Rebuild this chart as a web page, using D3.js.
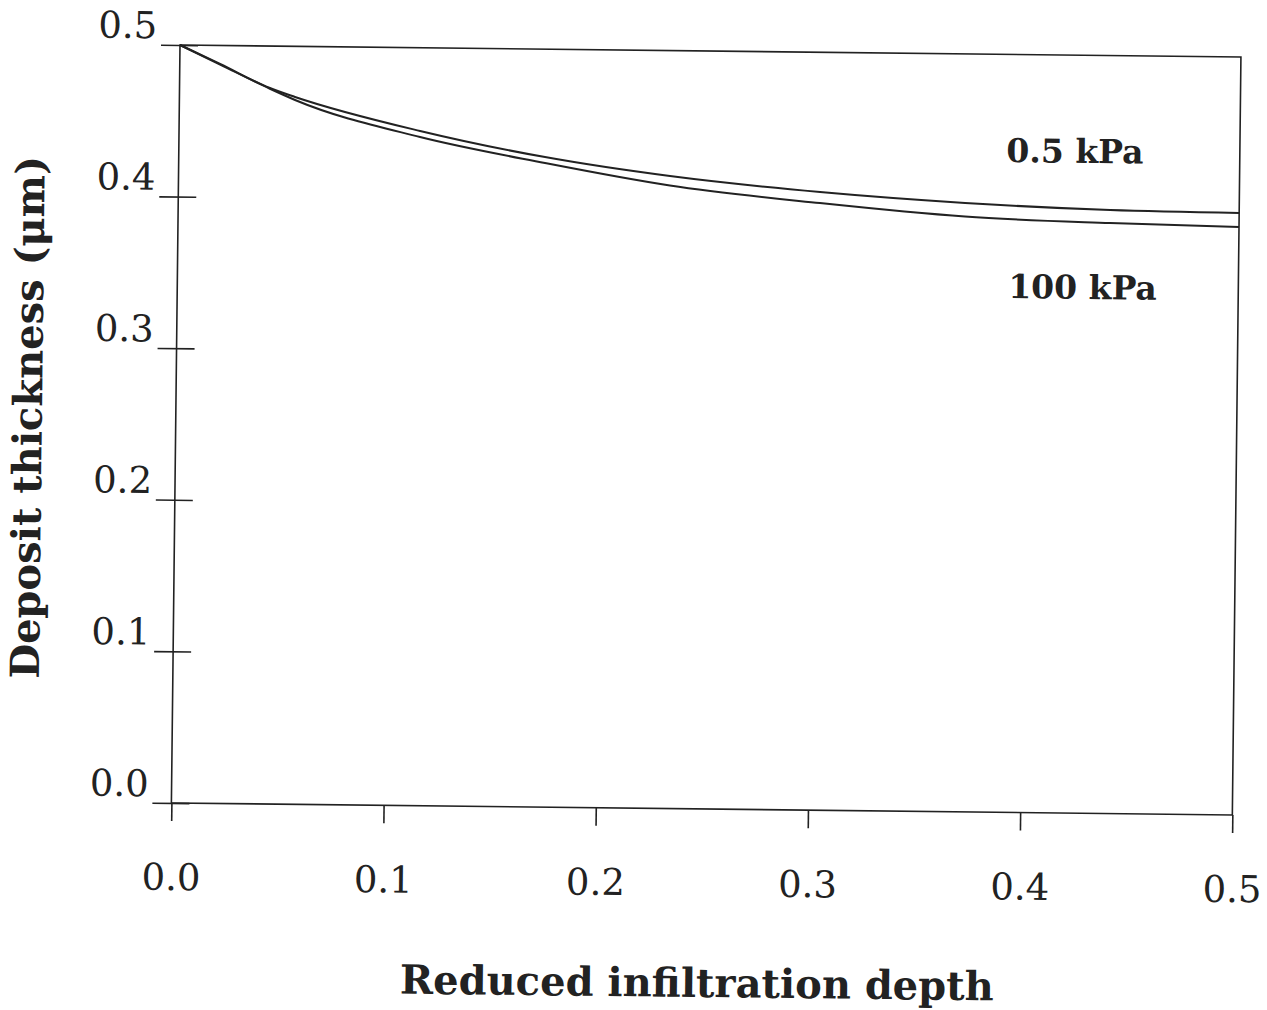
<!DOCTYPE html>
<html>
<head>
<meta charset="utf-8">
<script src="https://cdn.jsdelivr.net/npm/d3@7"></script>
<style>
  html, body { margin: 0; padding: 0; background: #fff; }
  svg { display: block; }
</style>
</head>
<body>
<div id="chart"></div>
<script>
// values
const xTicks = [0, 0.1, 0.2, 0.3, 0.4, 0.5];
const yTicks = [0, 0.1, 0.2, 0.3, 0.4, 0.5];
const depth = [0, 0.019, 0.0426, 0.0545, 0.1136, 0.1726, 0.2316, 0.3024, 0.3708, 0.4392, 0.5];
const thick05 = [0.5, 0.4878, 0.4723, 0.4666, 0.4451, 0.4288, 0.4172, 0.4078, 0.4017, 0.3981, 0.3971];
const thick100 = [0.5, 0.4874, 0.4718, 0.4646, 0.4411, 0.4249, 0.4110, 0.4005, 0.3927, 0.3895, 0.3879];
const curveLabels = [
  { text: '0.5 kPa', x: 0.390, y: 0.429 },
  { text: '100 kPa', x: 0.3916, y: 0.3393 }
];

const width = 1061, height = 758;
const ink = '#222';
const serif = '"DejaVu Serif", "Liberation Serif", serif';

const svg = d3.select('#chart').append('svg')
  .attr('width', 1267)
  .attr('height', 1010);

// the scan is tilted a little, so the whole plot is turned with it
const g = svg.append('g')
  .attr('transform', 'translate(180,45) rotate(0.65)');

const x = d3.scaleLinear().domain([0, 0.5]).range([0, width]);
const y = d3.scaleLinear().domain([0, 0.5]).range([height, 0]);

// frame
g.append('rect')
  .attr('x', 0).attr('y', 0)
  .attr('width', width).attr('height', height)
  .attr('fill', 'none')
  .attr('stroke', ink)
  .attr('stroke-width', 1.6);

// y axis, ticks cross the axis line
const yAxis = g.append('g')
  .call(d3.axisLeft(y).tickValues(yTicks).tickFormat(d3.format('.1f')).tickSize(19));
yAxis.select('.domain').remove();
yAxis.selectAll('.tick line')
  .attr('x1', 18).attr('x2', -19)
  .attr('stroke', ink).attr('stroke-width', 1.6);
yAxis.selectAll('.tick text')
  .attr('x', -23).attr('y', -7).attr('dy', 0)
  .style('font-family', serif).style('font-size', '37px')
  .attr('fill', ink);

// x axis
const xAxis = g.append('g')
  .attr('transform', 'translate(0,' + height + ')')
  .call(d3.axisBottom(x).tickValues(xTicks).tickFormat(d3.format('.1f')).tickSize(18));
xAxis.select('.domain').remove();
xAxis.selectAll('.tick line')
  .attr('stroke', ink).attr('stroke-width', 1.6);
xAxis.selectAll('.tick text')
  .attr('y', 87).attr('dy', 0)
  .style('font-family', serif).style('font-size', '37px')
  .attr('fill', ink);

// curves
const line = d3.line()
  .x(d => x(d[0]))
  .y(d => y(d[1]))
  .curve(d3.curveMonotoneX);

[thick05, thick100].forEach(series => {
  g.append('path')
    .datum(depth.map((d, i) => [d, series[i]]))
    .attr('d', line)
    .attr('fill', 'none')
    .attr('stroke', ink)
    .attr('stroke-width', 2);
});

g.selectAll('.curve-label')
  .data(curveLabels)
  .enter()
  .append('text')
  .attr('class', 'curve-label')
  .attr('x', d => x(d.x))
  .attr('y', d => y(d.y))
  .style('font-family', serif)
  .style('font-size', '33px')
  .style('font-weight', 'bold')
  .attr('fill', ink)
  .text(d => d.text);

// axis titles
g.append('text')
  .attr('x', width / 2 - 3)
  .attr('y', height + 188)
  .attr('text-anchor', 'middle')
  .style('font-family', serif)
  .style('font-size', '40px')
  .style('font-weight', 'bold')
  .attr('fill', ink)
  .text('Reduced infiltration depth');

g.append('text')
  .attr('transform', 'translate(-134,' + 374 + ') rotate(-90)')
  .attr('text-anchor', 'middle')
  .style('font-family', serif)
  .style('font-size', '40px')
  .style('font-weight', 'bold')
  .attr('fill', ink)
  .text('Deposit thickness (μm)');
</script>
</body>
</html>
